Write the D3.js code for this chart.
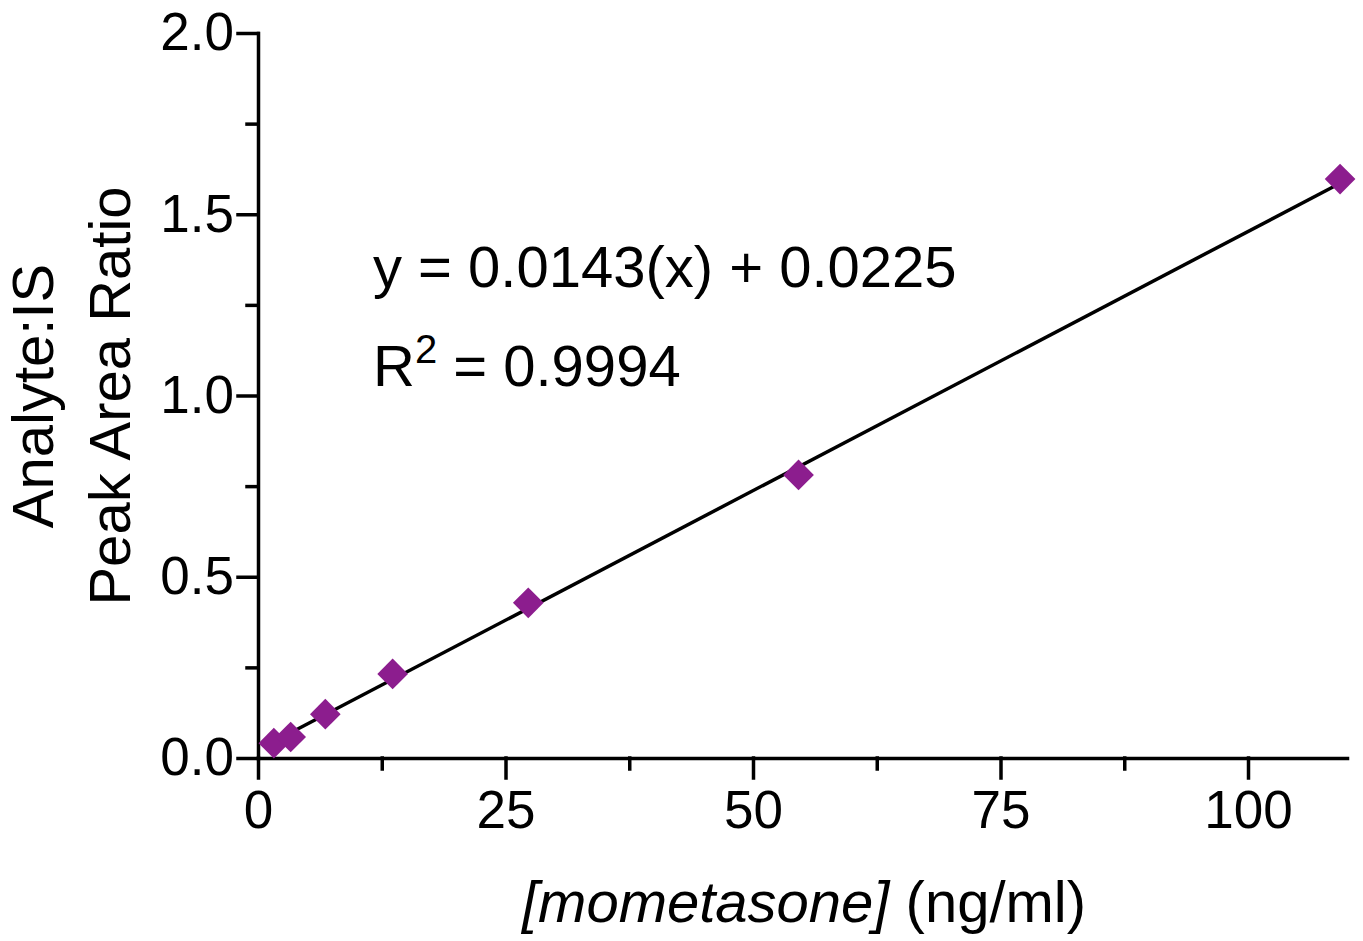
<!DOCTYPE html>
<html>
<head>
<meta charset="utf-8">
<script src="https://cdn.jsdelivr.net/npm/d3@7"></script>
<style>
  body { margin: 0; background: #fff; }
  svg { display: block; font-family: "Liberation Sans", Arial, sans-serif; }
</style>
</head>
<body>
<div id="chart"></div>
<script>
// Podatki, odčitani s slike
const concentrations = [1.6, 3.3, 6.8, 13.6, 27.3, 54.6, 109.3];
const ratios = [0.041, 0.058, 0.121, 0.232, 0.428, 0.781, 1.597];
const xTicks = [0, 25, 50, 75, 100];
const xMinorTicks = [12.5, 37.5, 62.5, 87.5];
const yTicks = [0, 0.5, 1.0, 1.5, 2.0];
const yMinorTicks = [0.25, 0.75, 1.25, 1.75];
const slope = 0.0143;
const intercept = 0.0225;
const equationText = "y = 0.0143(x) + 0.0225";
const r2Value = "0.9994";

const width = 1363;
const height = 941;
const marginTop = 33;
const marginRight = 16;
const marginBottom = 183;
const marginLeft = 258;
const purple = "#8c1d8e";

const x = d3.scaleLinear()
    .domain([0, 110])
    .range([marginLeft, width - marginRight]);

const y = d3.scaleLinear()
    .domain([0, 2])
    .range([height - marginBottom, marginTop]);

const svg = d3.select("#chart").append("svg")
    .attr("width", width)
    .attr("height", height)
    .attr("viewBox", [0, 0, width, height]);

// Glavne osi
svg.append("g")
    .attr("transform", `translate(0,${height - marginBottom})`)
    .call(d3.axisBottom(x).tickValues(xTicks).tickFormat(d3.format("d"))
        .tickSizeInner(20).tickSizeOuter(0).tickPadding(12));

svg.append("g")
    .attr("transform", `translate(${marginLeft},0)`)
    .call(d3.axisLeft(y).tickValues(yTicks).tickFormat(d3.format(".1f"))
        .tickSizeInner(20).tickSizeOuter(0).tickPadding(4));

// Pomožne oznake
svg.append("g")
    .attr("transform", `translate(0,${height - marginBottom})`)
    .call(d3.axisBottom(x).tickValues(xMinorTicks).tickFormat("").tickSize(11))
    .call(g => g.select(".domain").remove());

svg.append("g")
    .attr("transform", `translate(${marginLeft},0)`)
    .call(d3.axisLeft(y).tickValues(yMinorTicks).tickFormat("").tickSize(11))
    .call(g => g.select(".domain").remove());

svg.selectAll(".domain, .tick line")
    .attr("stroke", "#000")
    .attr("stroke-width", 3.5)
    .attr("stroke-linecap", "square");

svg.selectAll(".tick text")
    .attr("fill", "#000")
    .style("font-size", "53px")
    .style("font-family", "'Liberation Sans', Arial, sans-serif");

// Premica regresije
const xExtent = d3.extent(concentrations);
svg.append("path")
    .datum(xExtent)
    .attr("fill", "none")
    .attr("stroke", "#000")
    .attr("stroke-width", 3.5)
    .attr("d", d3.line()
        .x(d => x(d))
        .y(d => y(slope * d + intercept)));

// Točke
svg.append("g")
    .attr("fill", purple)
    .selectAll("path")
    .data(concentrations.map((c, i) => ({c, r: ratios[i]})))
    .join("path")
    .attr("d", d3.symbol(d3.symbolSquare, 470))
    .attr("transform", d => `translate(${x(d.c)},${y(d.r)}) rotate(45)`);

// Enačba
svg.append("text")
    .attr("x", 373)
    .attr("y", 287)
    .style("font-size", "58px")
    .text(equationText);

const r2 = svg.append("text")
    .attr("x", 373)
    .attr("y", 386)
    .style("font-size", "58px");
r2.append("tspan").text("R");
r2.append("tspan").attr("dy", -23).style("font-size", "40px").text("2");
r2.append("tspan").attr("dy", 23).text(" = " + r2Value);

// Naslova osi
const xl = svg.append("text")
    .attr("x", 804)
    .attr("y", 922)
    .attr("text-anchor", "middle")
    .style("font-size", "58px");
xl.append("tspan").style("font-style", "italic").text("[mometasone]");
xl.append("tspan").text(" (ng/ml)");

const yl = svg.append("text")
    .attr("transform", "translate(0,396) rotate(-90)")
    .attr("text-anchor", "middle")
    .style("font-size", "58px");
yl.append("tspan").attr("x", 0).attr("y", 53).text("Analyte:IS");
yl.append("tspan").attr("x", 0).attr("y", 130).text("Peak Area Ratio");
</script>
</body>
</html>
